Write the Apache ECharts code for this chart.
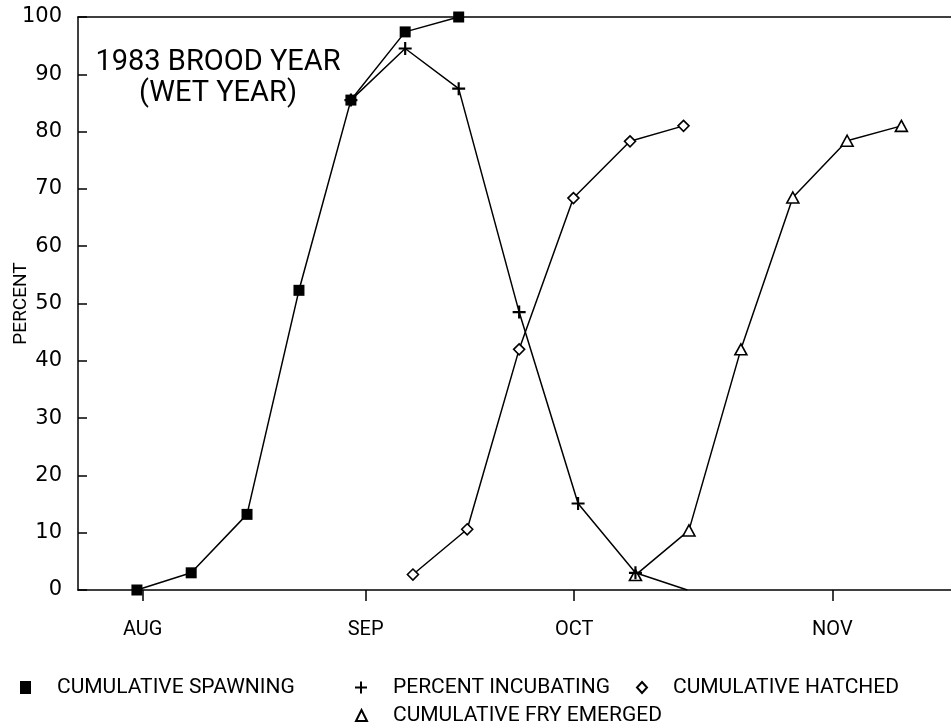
<!DOCTYPE html>
<html>
<head>
<meta charset="utf-8">
<title>1983 Brood Year</title>
<script src="https://cdn.jsdelivr.net/npm/echarts@6/dist/echarts.min.js"></script>
<style>
  html, body { margin: 0; padding: 0; background: #fff; }
  #chart { width: 951px; height: 725px; }
</style>
</head>
<body>
<div id="chart"></div>
<script>
// Season day (0 = first spawning survey) and percent values per survey
const spawningDays = [0, 7.0, 14.2, 20.9, 27.6, 34.6, 41.5];
const spawningPct  = [0, 3.0, 13.2, 52.3, 85.5, 97.4, 100];

const incubatingDays = [27.6, 34.6, 41.5, 49.3, 56.9, 64.3, 71.0];
const incubatingPct  = [85.5, 94.5, 87.5, 48.5, 15.1, 3.0, 0];

const hatchedDays = [35.6, 42.6, 49.3, 56.3, 63.6, 70.5];
const hatchedPct  = [2.7, 10.6, 42.0, 68.4, 78.3, 81.0];

const fryDays = [64.3, 71.2, 77.9, 84.6, 91.6, 98.6];
const fryPct  = [2.6, 10.4, 42.0, 68.5, 78.4, 81.0];

// Month marks along the season axis
const monthTickDays = [0.74, 29.5, 56.4, 89.7];
const monthLabels   = ['AUG', 'SEP', 'OCT', 'NOV'];

const yTicks = [0, 10, 20, 30, 40, 50, 60, 70, 80, 90, 100];

const FONT = 'Roboto, "DejaVu Sans", sans-serif';
const NUM_FONT = '"DejaVu Sans", sans-serif';
const PLUS = 'path://M5,0H7V5H12V7H7V12H5V7H0V5H5Z';

const pairs = (xs, ys) => xs.map((x, i) => [x, ys[i]]);

const names = {
  spawn: 'CUMULATIVE SPAWNING',
  incub: 'PERCENT INCUBATING',
  hatch: 'CUMULATIVE HATCHED',
  fry: 'CUMULATIVE FRY EMERGED'
};

const incubData = pairs(incubatingDays, incubatingPct).map((p, i, arr) =>
  i === arr.length - 1 ? { value: p, symbol: 'none' } : p
);

const legendText = { fontFamily: FONT, fontSize: 21, color: '#000', padding: [0, 0, 0, 21] };

const chart = echarts.init(document.getElementById('chart'), null, { renderer: 'canvas' });

chart.setOption({
  animation: false,
  backgroundColor: '#fff',
  title: {
    text: '1983 BROOD YEAR\n(WET YEAR)',
    left: 213,
    top: 42,
    textAlign: 'center',
    textStyle: { fontFamily: FONT, fontSize: 29, fontWeight: 'normal', color: '#000', lineHeight: 31 }
  },
  grid: { left: 78, right: 0, top: 17, bottom: 135, containLabel: false, outerBoundsMode: 'none' },
  xAxis: [{
    type: 'value',
    min: -7.6,
    max: 105,
    splitLine: { show: false },
    axisLine: { show: true, onZero: false, lineStyle: { color: '#000', width: 1.5 } },
    axisTick: { show: true, inside: false, length: 11, customValues: monthTickDays, lineStyle: { color: '#000', width: 1.5 } },
    axisLabel: {
      show: true,
      customValues: monthTickDays,
      formatter: v => {
        const i = monthTickDays.findIndex(t => Math.abs(t - v) < 1e-6);
        return i >= 0 ? monthLabels[i] : '';
      },
      margin: 30,
      fontFamily: FONT,
      fontSize: 20,
      color: '#000'
    }
  }, {
    type: 'value',
    position: 'top',
    min: -7.6,
    max: 105,
    splitLine: { show: false },
    axisLine: { show: true, onZero: false, lineStyle: { color: '#000', width: 1.5 } },
    axisTick: { show: false },
    axisLabel: { show: false }
  }],
  yAxis: {
    type: 'value',
    min: 0,
    max: 100,
    interval: 10,
    name: 'PERCENT',
    nameLocation: 'middle',
    nameRotate: 90,
    nameGap: 47,
    nameMoveOverlap: false,
    nameTextStyle: { fontFamily: FONT, fontSize: 19, color: '#000' },
    splitLine: { show: false },
    axisLine: { show: true, onZero: false, lineStyle: { color: '#000', width: 1.5 } },
    axisTick: { show: true, inside: true, length: 9, lineStyle: { color: '#000', width: 1.5 } },
    axisLabel: {
      margin: 16,
      fontFamily: NUM_FONT,
      fontSize: 21,
      color: '#000',
      customValues: yTicks
    }
  },
  legend: [
    { left: 15, top: 672, itemWidth: 11, itemHeight: 13, textStyle: legendText, selectedMode: false,
      data: [{ name: names.spawn, icon: 'rect' }] },
    { left: 350, top: 672, itemWidth: 12, itemHeight: 12, textStyle: legendText, selectedMode: false,
      data: [{ name: names.incub, icon: PLUS }] },
    { left: 631, top: 672, itemWidth: 10, itemHeight: 11, textStyle: legendText, selectedMode: false,
      data: [{ name: names.hatch, icon: 'diamond' }] },
    { left: 350, top: 700, itemWidth: 11, itemHeight: 11, textStyle: legendText, selectedMode: false,
      data: [{ name: names.fry, icon: 'triangle' }] }
  ],
  series: [
    {
      name: names.fry,
      type: 'line',
      data: pairs(fryDays, fryPct),
      symbol: 'triangle',
      symbolSize: [12, 11],
      itemStyle: { color: '#fff', borderColor: '#000', borderWidth: 1.6 },
      lineStyle: { color: '#000', width: 1.5 },
      z: 2
    },
    {
      name: names.hatch,
      type: 'line',
      data: pairs(hatchedDays, hatchedPct),
      symbol: 'diamond',
      symbolSize: [11, 11],
      itemStyle: { color: '#fff', borderColor: '#000', borderWidth: 1.6 },
      lineStyle: { color: '#000', width: 1.5 },
      z: 3
    },
    {
      name: names.incub,
      type: 'line',
      data: incubData,
      symbol: PLUS,
      symbolSize: 13,
      itemStyle: { color: '#000', borderWidth: 0 },
      lineStyle: { color: '#000', width: 1.5 },
      z: 4
    },
    {
      name: names.spawn,
      type: 'line',
      data: pairs(spawningDays, spawningPct),
      symbol: 'rect',
      symbolSize: [11, 11],
      itemStyle: { color: '#000', borderWidth: 0 },
      lineStyle: { color: '#000', width: 1.5 },
      z: 5
    }
  ]
});
</script>
</body>
</html>
